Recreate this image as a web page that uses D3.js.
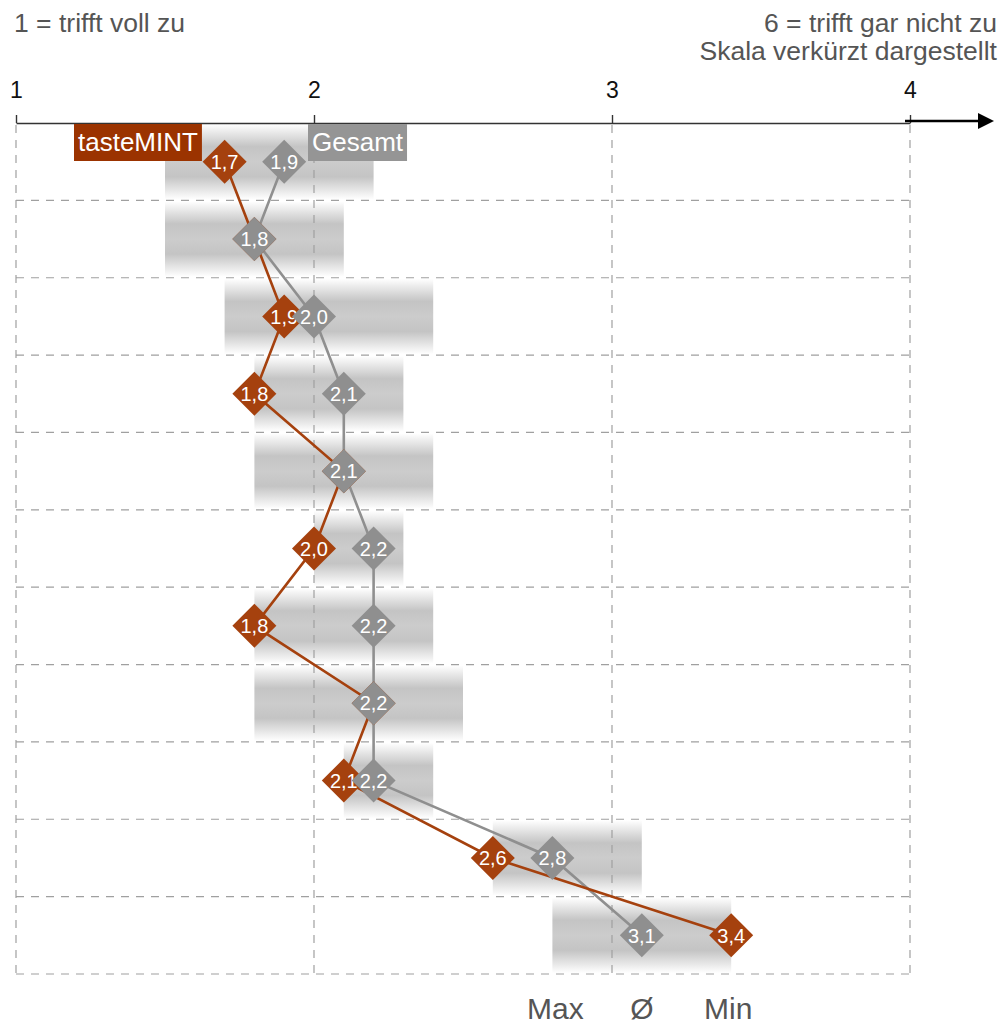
<!DOCTYPE html>
<html>
<head>
<meta charset="utf-8">
<script src="https://cdn.jsdelivr.net/npm/d3@7"></script>
<style>
  html, body { margin: 0; padding: 0; background: #fff; }
  svg { display: block; font-family: "Liberation Sans", Arial, sans-serif; }
</style>
</head>
<body>
<svg id="chart" width="1003" height="1024"></svg>
<script>
// Mean ratings per statement (1 = trifft voll zu … 6 = trifft gar nicht zu)
const tasteMint = [1.7, 1.8, 1.9, 1.8, 2.1, 2.0, 1.8, 2.2, 2.1, 2.6, 3.4];
const gesamt    = [1.9, 1.8, 2.0, 2.1, 2.1, 2.2, 2.2, 2.2, 2.2, 2.8, 3.1];
// Spread across all groups: best (Max) and worst (Min) mean per statement
const bandMax   = [1.5, 1.5, 1.7, 1.8, 1.8, 2.0, 1.8, 1.8, 2.1, 2.6, 2.8];
const bandMin   = [2.2, 2.1, 2.4, 2.3, 2.4, 2.3, 2.4, 2.5, 2.4, 3.1, 3.4];
const tickValues = [1, 2, 3, 4];
const seriesNames = ["tasteMINT", "Gesamt"];
const bandLabels = ["Max", "Ø", "Min"];

const fmt = v => d3.format(".1f")(v).replace(".", ",");

const svg = d3.select("#chart");
const rowCount = tasteMint.length;
const rows = d3.range(rowCount);

const x = d3.scaleLinear().domain([1, 4]).range([16, 910]);
const y = d3.scaleLinear().domain([0, rowCount]).range([123, 974]);
const rowH = y(1) - y(0);
const yc = i => y(i + 0.5);

const ORANGE = "#a5410e", ORANGE_BOX = "#9b3300";
const GREY = "#8f8f8f", GREY_BOX = "#959595";

// vertical shading for the range bands
const defs = svg.append("defs");
const grad = defs.append("linearGradient")
  .attr("id", "bandGrad").attr("x1", 0).attr("x2", 0).attr("y1", 0).attr("y2", 1);
[[0, "#ffffff"], [0.3, "#c4c4c4"], [0.5, "#cccccc"], [0.7, "#c4c4c4"], [1, "#ffffff"]]
  .forEach(([o, c]) => grad.append("stop").attr("offset", o).attr("stop-color", c));

// range bands (Max … Min)
svg.append("g").selectAll("rect").data(rows).join("rect")
  .attr("x", i => x(bandMax[i]))
  .attr("width", i => x(bandMin[i]) - x(bandMax[i]))
  .attr("y", i => y(i) + 1)
  .attr("height", rowH - 2)
  .attr("fill", "url(#bandGrad)");

// dashed grid
const grid = svg.append("g")
  .attr("stroke", "#a0a0a0").attr("stroke-width", 1.2).attr("stroke-dasharray", "8,7");
grid.selectAll("line.h").data(d3.range(1, rowCount + 1)).join("line")
  .attr("class", "h")
  .attr("x1", x(1)).attr("x2", x(4))
  .attr("y1", d => y(d)).attr("y2", d => y(d));
grid.selectAll("line.v").data(tickValues).join("line")
  .attr("class", "v")
  .attr("x1", d => x(d)).attr("x2", d => x(d))
  .attr("y1", y(0) + 2).attr("y2", y(rowCount));

// top axis
const axis = svg.append("g")
  .attr("transform", `translate(0,${y(0)})`)
  .call(d3.axisTop(x).tickValues(tickValues).tickFormat(d3.format("d"))
    .tickSize(8).tickSizeOuter(0).tickPadding(17));
axis.select(".domain").attr("stroke", "#333").attr("stroke-width", 1.6);
axis.selectAll(".tick line").attr("stroke", "#333").attr("stroke-width", 1.4);
axis.selectAll(".tick text")
  .attr("fill", "#111").attr("font-size", 23)
  .attr("font-family", "Liberation Sans, Arial, sans-serif");

// arrow past the shortened scale
const ay = y(0) - 2;
svg.append("line")
  .attr("x1", x(4) - 5).attr("x2", x(4) + 72)
  .attr("y1", ay).attr("y2", ay)
  .attr("stroke", "#000").attr("stroke-width", 2.6);
svg.append("path")
  .attr("d", `M${x(4) + 68},${ay - 8} L${x(4) + 84},${ay} L${x(4) + 68},${ay + 8} Z`)
  .attr("fill", "#000");

// scale captions
svg.append("text").attr("x", 14).attr("y", 32)
  .attr("font-size", 26.5).attr("fill", "#555").text("1 = trifft voll zu");
svg.append("text").attr("x", 997).attr("y", 32).attr("text-anchor", "end")
  .attr("font-size", 26.5).attr("fill", "#555").text("6 = trifft gar nicht zu");
svg.append("text").attr("x", 997).attr("y", 60).attr("text-anchor", "end")
  .attr("font-size", 26.5).attr("fill", "#555").text("Skala verkürzt dargestellt");

// connecting lines
const line = d3.line().x(d => x(d[0])).y(d => yc(d[1]));
svg.append("path")
  .attr("d", line(gesamt.map((v, i) => [v, i])))
  .attr("fill", "none").attr("stroke", GREY).attr("stroke-width", 2.6);
svg.append("path")
  .attr("d", line(tasteMint.map((v, i) => [v, i])))
  .attr("fill", "none").attr("stroke", ORANGE).attr("stroke-width", 2.6);

// diamond markers with value labels
const R = 22;
function diamonds(values, color, cls) {
  const g = svg.append("g").attr("class", cls);
  const m = g.selectAll("g").data(values).join("g")
    .attr("transform", (v, i) => `translate(${x(v)},${yc(i)})`);
  m.append("path")
    .attr("d", `M0,${-R} L${R},0 L0,${R} L${-R},0 Z`)
    .attr("fill", color);
  m.append("text")
    .attr("text-anchor", "middle").attr("dy", "0.36em")
    .attr("font-size", 20).attr("fill", "#fff")
    .text(v => fmt(v));
}
diamonds(tasteMint, ORANGE, "mint");
diamonds(gesamt, GREY, "gesamt");

// series labels
function legendBox(label, xLeft, fill) {
  const g = svg.append("g");
  const t = g.append("text")
    .attr("x", xLeft + 4).attr("y", y(0) + 28)
    .attr("font-size", 26).attr("fill", "#fff").text(label);
  const w = t.node().getComputedTextLength();
  g.insert("rect", "text")
    .attr("x", xLeft).attr("y", y(0) + 1)
    .attr("width", w + 8).attr("height", 37)
    .attr("fill", fill);
}
legendBox(seriesNames[0], 74, ORANGE_BOX);
legendBox(seriesNames[1], 308, GREY_BOX);

// band legend under the last row
const last = rowCount - 1;
const bandPos = [bandMax[last], gesamt[last], bandMin[last]];
svg.append("g").selectAll("text").data(bandLabels).join("text")
  .attr("x", (d, i) => x(bandPos[i]) + (i === 0 ? 3 : i === 2 ? -3 : 0))
  .attr("y", 1019)
  .attr("text-anchor", "middle")
  .attr("font-size", 30).attr("fill", "#555")
  .text(d => d);
</script>
</body>
</html>
